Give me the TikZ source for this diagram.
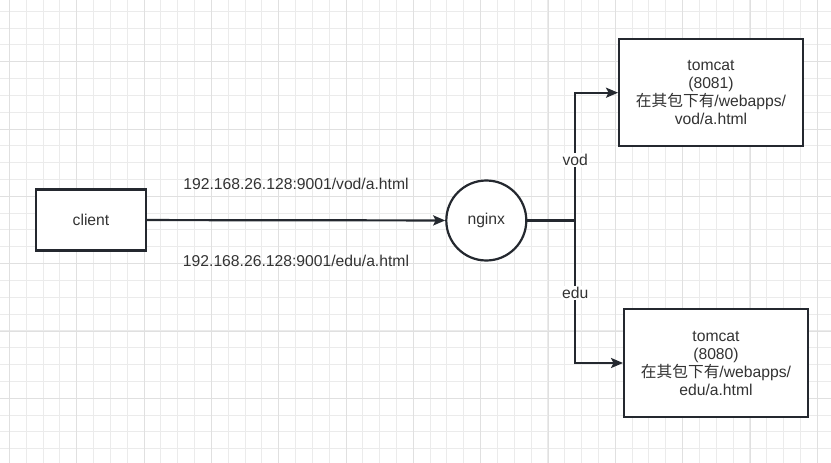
\documentclass[tikz,border=0pt]{standalone}
\usepackage{fontspec}
\setmainfont{Liberation Sans}
\newfontfamily\cjk{Noto Sans CJK SC}
\usetikzlibrary{arrows.meta}
\definecolor{lineclr}{HTML}{24282F}
\definecolor{textclr}{HTML}{333333}
\definecolor{gridminor}{HTML}{EBEBEB}
\definecolor{gridmajor}{HTML}{E0E0E0}
\begin{document}
\begin{tikzpicture}[
    x=1pt, y=-1pt,
    mybox/.style={rectangle, draw=lineclr, line width=2.2pt, fill=white, text=textclr, font=\fontsize{15.7}{18}\selectfont, align=center, inner sep=0pt},
    mycircle/.style={circle, draw=lineclr, line width=2.2pt, fill=white, text=textclr, font=\fontsize{15.7}{18}\selectfont, minimum size=80pt, inner sep=0pt},
    myarrow/.style={-{Stealth[length=12pt, width=10pt, inset=2.5pt]}, draw=lineclr, line width=2.2pt},
    mylabel/.style={text=textclr, font=\fontsize{15.7}{18}\selectfont, inner sep=1pt},
    mytag/.style={mylabel, fill=white, inner sep=1.5pt},
]
\useasboundingbox (0,0) rectangle (831,463);
\fill[white] (0,0) rectangle (831,463);

% background grid
\foreach \i in {0,...,49} {
    \pgfmathsetmacro\gx{9.4+16.83*\i}
    \draw[gridminor, line width=1pt] (\gx,0) -- (\gx,463);
}
\foreach \i in {0,...,27} {
    \pgfmathsetmacro\gy{11.2+16.83*\i}
    \draw[gridminor, line width=1pt] (0,\gy) -- (831,\gy);
}
\foreach \i in {0,...,12} {
    \pgfmathsetmacro\gx{9.4+67.33*\i}
    \draw[gridmajor, line width=1pt] (\gx,0) -- (\gx,463);
}
\foreach \i in {0,...,6} {
    \pgfmathsetmacro\gy{61.7+67.33*\i}
    \draw[gridmajor, line width=1pt] (0,\gy) -- (831,\gy);
}

\node[mybox, minimum width=110pt, minimum height=61pt] (client) at (91,220) {client};
\node[mycircle] (nginx) at (486.3,220.5) {nginx};
\node[mybox, minimum width=183.7pt, minimum height=106.7pt] (tc1) at (711,92.7) {tomcat\\(8081)\\{\cjk 在其包下有}/webapps/\\vod/a.html};
\node[mybox, minimum width=183.7pt, minimum height=107.4pt] (tc2) at (716,363) {tomcat\\(8080)\\{\cjk 在其包下有}/webapps/\\edu/a.html};
\coordinate (split) at (575.3,220.5);

\draw[myarrow] (client) -- (nginx);
\draw[draw=lineclr, line width=2.2pt] (nginx) -- (split);
\draw[myarrow] (split) |- node[mytag, pos=0.236] {vod} (tc1);
\draw[myarrow] (split) |- node[mytag, pos=0.255] {edu} (tc2);

\node[mylabel] (urlvod) at (296,184) {192.168.26.128:9001/vod/a.html};
\node[mylabel] (urledu) at (296,261) {192.168.26.128:9001/edu/a.html};
\end{tikzpicture}
\end{document}
